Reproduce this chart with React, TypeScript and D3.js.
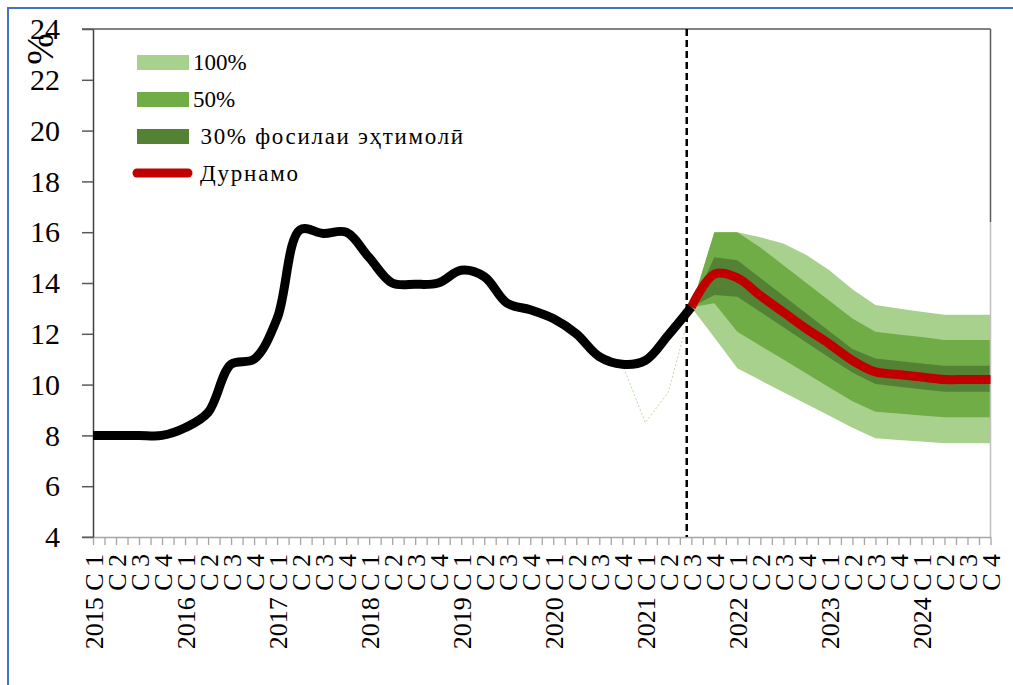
import { useEffect, useRef } from "react";
import * as d3 from "d3";

// quarters 2015 Q1 .. 2024 Q4
const years = [2015, 2016, 2017, 2018, 2019, 2020, 2021, 2022, 2023, 2024];
const quarterNames = ["С 1", "С 2", "С 3", "С 4"];

// inflation, actual (index 0..26)
const actual = [
  8.0, 8.0, 8.0, 8.0, 8.3, 8.9, 10.8, 11.0, 12.6, 16.1, 15.95, 16.0, 15.0,
  14.0, 13.95, 14.0, 14.5, 14.25, 13.2, 12.95, 12.6, 12.0, 11.1, 10.8, 10.95,
  11.95, 13.05,
];

// forecast (index 26..39)
const forecastStartIdx = 26;
const forecast = [
  13.05, 14.35, 14.2, 13.5, 12.85, 12.2, 11.6, 10.95, 10.5, 10.4, 10.3, 10.2,
  10.2, 10.2,
];

// fan bands (index 26..39)
const low100 = [13.05, 11.85, 10.64, 10.17, 9.7, 9.24, 8.77, 8.3, 7.89, 7.82, 7.76, 7.69, 7.69, 7.69];
const high100 = [13.05, 16.0, 16.0, 15.8, 15.56, 15.1, 14.5, 13.75, 13.13, 13.0, 12.87, 12.75, 12.75, 12.75];
const low50 = [13.05, 13.2, 12.08, 11.53, 10.99, 10.44, 9.89, 9.34, 8.93, 8.86, 8.78, 8.71, 8.71, 8.71];
const high50 = [13.05, 16.0, 16.0, 15.4, 14.7, 14.0, 13.3, 12.6, 12.08, 11.97, 11.87, 11.76, 11.76, 11.76];
const low30 = [13.05, 13.53, 13.46, 12.86, 12.26, 11.66, 11.06, 10.48, 10.02, 9.92, 9.82, 9.72, 9.72, 9.72];
const high30 = [13.05, 15.01, 14.9, 14.2, 13.5, 12.8, 12.1, 11.4, 11.03, 10.93, 10.83, 10.74, 10.74, 10.74];

// thin dotted series (index 23..26)
const dottedStartIdx = 23;
const dotted = [10.8, 8.5, 9.7, 13.05];

// position of dashed divider, in quarter index
const dividerIdx = 25.8;

const yTicks = [4, 6, 8, 10, 12, 14, 16, 18, 20, 22, 24];

const legendItems = [
  { label: "100%", color: "#A9D18E" },
  { label: "50%", color: "#70AD47" },
  { label: " 30% фосилаи эҳтимолӣ", color: "#548235" },
];
const legendLineLabel = "Дурнамо";

const FONT = "Liberation Serif, DejaVu Serif, Tinos, Noto Serif, serif";

export default function App() {
  const svgRef = useRef<SVGSVGElement>(null);
  const width = 1013;
  const height = 685;

  useEffect(() => {
    const svg = d3.select(svgRef.current);
    svg.selectAll("*").remove();

    const labels: string[] = [];
    years.forEach((yr) =>
      quarterNames.forEach((q, qi) => labels.push(qi === 0 ? `${yr} ${q}` : q))
    );

    const x = d3.scaleLinear().domain([0, labels.length - 1]).range([93, 990.5]);
    const y = d3.scaleLinear().domain([4, 24]).range([537, 29]);

    // outer blue border
    svg
      .append("rect")
      .attr("x", 8)
      .attr("y", 8)
      .attr("width", 1100)
      .attr("height", 800)
      .attr("fill", "none")
      .attr("stroke", "#4472C4")
      .attr("stroke-width", 2);

    // fan
    const band = (lo: number[], hi: number[], color: string) => {
      const pts = lo.map((v, i) => ({ i: i + forecastStartIdx, lo: v, hi: hi[i] }));
      const area = d3
        .area<{ i: number; lo: number; hi: number }>()
        .x((d) => x(d.i))
        .y0((d) => y(d.lo))
        .y1((d) => y(d.hi));
      svg.append("path").attr("d", area(pts)).attr("fill", color);
    };
    band(low100, high100, "#A9D18E");
    band(low50, high50, "#70AD47");
    band(low30, high30, "#548235");

    // frame
    svg
      .append("line")
      .attr("x1", 82)
      .attr("x2", x(39))
      .attr("y1", y(24))
      .attr("y2", y(24))
      .attr("stroke", "#595959")
      .attr("stroke-width", 1.5);
    svg
      .append("line")
      .attr("x1", x(39))
      .attr("x2", x(39))
      .attr("y1", y(24))
      .attr("y2", y(16.4))
      .attr("stroke", "#595959")
      .attr("stroke-width", 1.5);
    svg
      .append("line")
      .attr("x1", x(39))
      .attr("x2", x(39))
      .attr("y1", y(16.4))
      .attr("y2", y(4))
      .attr("stroke", "#bfbfbf")
      .attr("stroke-width", 1.5);

    // x axis: minor ticks
    const xAxisG = svg.append("g").attr("transform", `translate(0,${y(4)})`);
    xAxisG
      .call(
        d3
          .axisBottom(x)
          .tickValues(d3.range(0, labels.length - 0.5, 0.5))
          .tickSize(8)
          .tickSizeOuter(0)
          .tickFormat(() => "")
      )
      .call((g) => g.select(".domain").attr("stroke", "#a6a6a6").attr("stroke-width", 1.5))
      .call((g) => g.selectAll(".tick line").attr("stroke", "#a6a6a6").attr("stroke-width", 1.3));
    xAxisG
      .append("line")
      .attr("x1", 82)
      .attr("x2", x(0))
      .attr("stroke", "#a6a6a6")
      .attr("stroke-width", 1.5);

    // x axis: labels
    const xLab = svg.append("g").attr("transform", `translate(0,${y(4)})`);
    xLab
      .call(
        d3
          .axisBottom(x)
          .tickValues(d3.range(labels.length))
          .tickSize(0)
          .tickFormat((d) => labels[d as number])
      )
      .attr("font-family", FONT)
      .attr("font-size", 26)
      .call((g) => g.select(".domain").remove())
      .selectAll("text")
      .attr("transform", "rotate(-90)")
      .attr("x", -17)
      .attr("y", 0)
      .attr("dy", "0.35em")
      .attr("text-anchor", "end")
      .attr("fill", "#000");

    // y axis
    svg
      .append("g")
      .attr("transform", `translate(${x(0)},0)`)
      .call(
        d3
          .axisLeft(y)
          .tickValues(yTicks)
          .tickSize(11)
          .tickSizeOuter(0)
          .tickPadding(22)
      )
      .attr("font-family", FONT)
      .attr("font-size", 30)
      .call((g) => g.select(".domain").attr("stroke", "#404040").attr("stroke-width", 1.5))
      .call((g) => g.selectAll(".tick line").attr("stroke", "#595959").attr("stroke-width", 1.5))
      .call((g) => g.selectAll(".tick text").attr("fill", "#000"));

    // y title
    svg
      .append("text")
      .attr("transform", "translate(40,49) rotate(-90)")
      .attr("text-anchor", "middle")
      .attr("dy", "0.35em")
      .attr("font-family", FONT)
      .attr("font-size", 38)
      .text("%");

    // thin dotted series
    svg
      .append("path")
      .attr(
        "d",
        d3
          .line<number>()
          .x((_, i) => x(i + dottedStartIdx))
          .y((d) => y(d))(dotted)
      )
      .attr("fill", "none")
      .attr("stroke", "#A9D18E")
      .attr("stroke-width", 0.8)
      .attr("stroke-dasharray", "2,2");

    // divider
    svg
      .append("line")
      .attr("x1", x(dividerIdx))
      .attr("x2", x(dividerIdx))
      .attr("y1", y(24))
      .attr("y2", y(4))
      .attr("stroke", "#000")
      .attr("stroke-width", 2.5)
      .attr("stroke-dasharray", "7,4");

    // forecast line
    svg
      .append("path")
      .attr(
        "d",
        d3
          .line<number>()
          .x((_, i) => x(i + forecastStartIdx))
          .y((d) => y(d))
          .curve(d3.curveCatmullRom.alpha(0.5))(forecast)
      )
      .attr("fill", "none")
      .attr("stroke", "#C00000")
      .attr("stroke-width", 9)
      .attr("stroke-linejoin", "round");

    // actual line
    svg
      .append("path")
      .attr(
        "d",
        d3
          .line<number>()
          .x((_, i) => x(i))
          .y((d) => y(d))
          .curve(d3.curveCatmullRom.alpha(0.5))(actual)
      )
      .attr("fill", "none")
      .attr("stroke", "#000")
      .attr("stroke-width", 9)
      .attr("stroke-linejoin", "round");

    // legend
    const lg = svg.append("g").attr("font-family", FONT).attr("font-size", 23);
    legendItems.forEach((it, k) => {
      const top = 55 + k * 37;
      lg.append("rect")
        .attr("x", 137)
        .attr("y", top)
        .attr("width", 52)
        .attr("height", 15)
        .attr("fill", it.color);
      lg.append("text")
        .attr("x", 193)
        .attr("y", top + 15)
        .attr("letter-spacing", k === 2 ? 1.7 : 0)
        .style("white-space", "pre")
        .text(it.label);
    });
    lg.append("line")
      .attr("x1", 137)
      .attr("x2", 188)
      .attr("y1", 173)
      .attr("y2", 173)
      .attr("stroke", "#C00000")
      .attr("stroke-width", 9)
      .attr("stroke-linecap", "round");
    lg.append("text")
      .attr("x", 200)
      .attr("y", 181)
      .attr("letter-spacing", 1.8)
      .text(legendLineLabel);
  }, []);

  return (
    <svg
      ref={svgRef}
      width={width}
      height={height}
      style={{ position: "absolute", left: 0, top: 0, background: "#fff" }}
    />
  );
}
